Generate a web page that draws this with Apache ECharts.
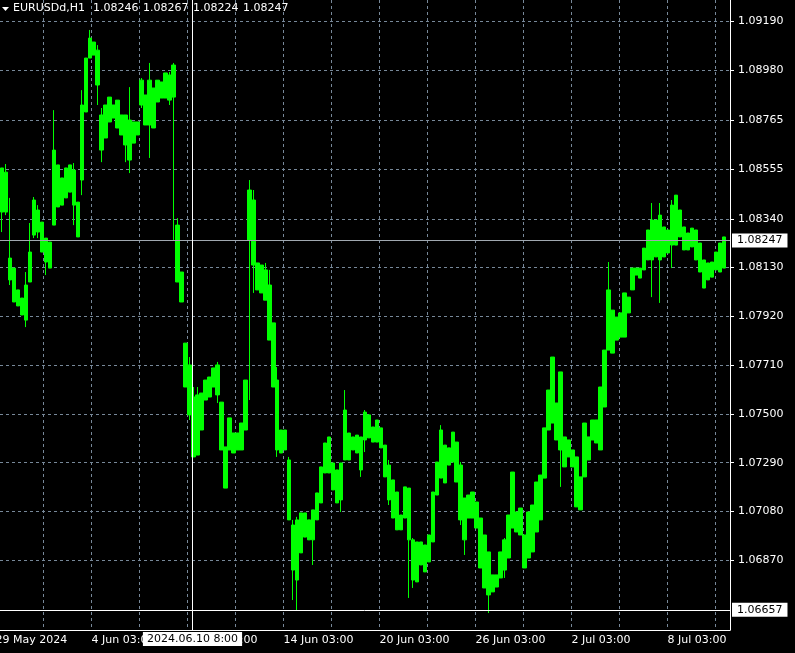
<!DOCTYPE html>
<html><head><meta charset="utf-8">
<script src="https://cdn.jsdelivr.net/npm/echarts@6/dist/echarts.min.js"></script>
<style>html,body{margin:0;padding:0;background:#000;}#chart{width:795px;height:653px;}</style>
</head><body><div id="chart"></div>
<script>
const symbolName = 'EURUSDd,H1';
const headerValues = ['1.08246', '1.08267', '1.08224', '1.08247'];
const bidPrice = 1.08247;
const crosshairHour = 197;
const crosshairPrice = 1.06657;
const crosshairLabel = '2024.06.10 8:00';
const yTickValues = [1.06870, 1.07080, 1.07290, 1.07500, 1.07710, 1.07920, 1.08130, 1.08340, 1.08555, 1.08765, 1.08980, 1.09190];
const xTickLabels = ['29 May 2024', '4 Jun 03:00', '10 Jun 03:00', '14 Jun 03:00', '20 Jun 03:00', '26 Jun 03:00', '2 Jul 03:00', '8 Jul 03:00'];

const high = [
1.08559,1.08576,1.08430,1.08128,1.08034,1.07999,1.08111,1.08322,1.08434,1.08399,
1.08326,1.08257,1.08240,1.08808,1.08572,1.08516,1.08559,1.08572,1.08580,1.08412,
1.08894,1.09032,1.09153,1.09101,1.09088,1.08817,1.08830,1.08864,1.08830,1.08851,
1.08787,1.08787,1.08907,1.08757,1.08757,1.08946,1.08873,1.09011,1.08903,1.08937,
1.08929,1.08968,1.08972,1.09011,1.08343,1.08111,1.07805,1.07745,1.07616,1.07616,
1.07590,1.07646,1.07659,1.07698,1.07724,1.07551,1.07358,1.07483,1.07418,1.07418,
1.07461,1.07646,1.08507,1.08464,1.08150,1.08141,1.08150,1.08120,1.07892,1.07702,
1.07431,1.07431,1.07315,1.07044,1.07057,1.07074,1.07074,1.07044,1.07087,1.07160,
1.07272,1.07375,1.07401,1.07289,1.07259,1.07289,1.07603,1.07418,1.07401,1.07409,
1.07401,1.07517,1.07496,1.07444,1.07474,1.07440,1.07366,1.07302,1.07216,1.07164,
1.07065,1.07186,1.07181,1.06966,1.06949,1.06949,1.06936,1.06979,1.07164,1.07293,
1.07452,1.07366,1.07354,1.07422,1.07379,1.07293,1.07138,1.07151,1.07164,1.07121,
1.07052,1.06979,1.06906,1.06807,1.06807,1.06906,1.06966,1.07065,1.07250,1.07078,
1.07095,1.06979,1.07078,1.07108,1.07207,1.07237,1.07440,1.07603,1.07745,1.07547,
1.07681,1.07401,1.07388,1.07345,1.07315,1.07229,1.07461,1.07401,1.07474,1.07474,
1.07616,1.07775,1.08154,1.07947,1.07917,1.07935,1.08021,1.08003,1.08128,1.08128,
1.08128,1.08214,1.08292,1.08408,1.08335,1.08408,1.08305,1.08292,1.08421,1.08442,
1.08378,1.08305,1.08279,1.08300,1.08292,1.08236,1.08163,1.08150,1.08154,1.08197,
1.08236,1.08262];

const open = [
1.08559,1.08541,1.08171,1.08128,1.08034,1.07999,1.08055,1.08197,1.08421,1.08378,
1.08326,1.08257,1.08240,1.08636,1.08572,1.08516,1.08559,1.08572,1.08550,1.08412,
1.08830,1.09032,1.09118,1.09101,1.09066,1.08787,1.08830,1.08864,1.08830,1.08851,
1.08787,1.08787,1.08765,1.08757,1.08757,1.08937,1.08873,1.08937,1.08903,1.08937,
1.08929,1.08968,1.08959,1.09002,1.08313,1.08111,1.07805,1.07711,1.07573,1.07582,
1.07590,1.07646,1.07659,1.07698,1.07711,1.07551,1.07358,1.07483,1.07418,1.07418,
1.07461,1.07646,1.08464,1.08421,1.08150,1.08141,1.08120,1.08055,1.07892,1.07646,
1.07431,1.07431,1.07302,1.07022,1.07044,1.07074,1.07074,1.07044,1.07087,1.07160,
1.07272,1.07375,1.07401,1.07289,1.07259,1.07289,1.07517,1.07418,1.07401,1.07409,
1.07401,1.07508,1.07496,1.07444,1.07474,1.07440,1.07366,1.07280,1.07216,1.07164,
1.07065,1.07186,1.07181,1.06958,1.06949,1.06949,1.06936,1.06979,1.07164,1.07293,
1.07431,1.07366,1.07354,1.07422,1.07379,1.07280,1.07138,1.07151,1.07164,1.07121,
1.07052,1.06979,1.06906,1.06807,1.06807,1.06906,1.06958,1.07065,1.07250,1.07078,
1.07095,1.06979,1.07078,1.07108,1.07207,1.07237,1.07440,1.07603,1.07745,1.07547,
1.07681,1.07401,1.07388,1.07345,1.07315,1.07229,1.07461,1.07401,1.07474,1.07474,
1.07616,1.07775,1.08034,1.07947,1.07917,1.07935,1.08021,1.08003,1.08128,1.08128,
1.08128,1.08214,1.08292,1.08335,1.08335,1.08356,1.08305,1.08292,1.08399,1.08442,
1.08378,1.08305,1.08279,1.08300,1.08292,1.08236,1.08163,1.08150,1.08154,1.08197,
1.08236,1.08262];

const close = [
1.08369,1.08369,1.08077,1.07982,1.07965,1.07926,1.07904,1.08068,1.08270,1.08283,
1.08197,1.08154,1.08128,1.08313,1.08391,1.08399,1.08430,1.08455,1.08399,1.08262,
1.08507,1.08800,1.09032,1.09045,1.08916,1.08636,1.08688,1.08757,1.08774,1.08731,
1.08701,1.08658,1.08593,1.08666,1.08701,1.08830,1.08744,1.08744,1.08731,1.08843,
1.08860,1.08860,1.08851,1.08864,1.08068,1.07982,1.07616,1.07496,1.07315,1.07323,
1.07431,1.07560,1.07573,1.07616,1.07582,1.07345,1.07181,1.07345,1.07332,1.07345,
1.07345,1.07431,1.08249,1.08141,1.08034,1.08021,1.07990,1.07818,1.07616,1.07345,
1.07332,1.07345,1.07044,1.06828,1.06785,1.06902,1.06970,1.06958,1.06958,1.07044,
1.07117,1.07246,1.07246,1.07173,1.07117,1.07130,1.07302,1.07302,1.07345,1.07332,
1.07259,1.07388,1.07397,1.07379,1.07379,1.07354,1.07229,1.07130,1.07052,1.07001,
1.07001,1.07052,1.06958,1.06785,1.06777,1.06850,1.06820,1.06863,1.06949,1.07151,
1.07224,1.07203,1.07280,1.07293,1.07207,1.07044,1.06958,1.07052,1.07052,1.07009,
1.06837,1.06751,1.06721,1.06734,1.06755,1.06794,1.06828,1.06880,1.07009,1.06992,
1.06979,1.06837,1.06880,1.06906,1.06992,1.07044,1.07224,1.07431,1.07461,1.07388,
1.07345,1.07272,1.07315,1.07272,1.07100,1.07087,1.07229,1.07302,1.07388,1.07375,
1.07345,1.07530,1.07775,1.07762,1.07818,1.07831,1.07831,1.07935,1.08034,1.08098,
1.08085,1.08120,1.08163,1.08163,1.08176,1.08163,1.08176,1.08193,1.08227,1.08227,
1.08262,1.08206,1.08206,1.08219,1.08163,1.08111,1.08042,1.08077,1.08089,1.08120,
1.08111,1.08128];

const low = [
1.08283,1.08356,1.08055,1.07982,1.07965,1.07926,1.07874,1.08068,1.08257,1.08257,
1.08197,1.08098,1.08128,1.08313,1.08391,1.08399,1.08430,1.08455,1.08313,1.08262,
1.08442,1.08800,1.09032,1.09045,1.08830,1.08584,1.08688,1.08757,1.08774,1.08731,
1.08701,1.08584,1.08537,1.08666,1.08701,1.08817,1.08744,1.08602,1.08731,1.08843,
1.08860,1.08860,1.08830,1.08249,1.08068,1.07982,1.07616,1.07474,1.07315,1.07323,
1.07431,1.07560,1.07573,1.07616,1.07547,1.07345,1.07181,1.07345,1.07332,1.07345,
1.07345,1.07431,1.07560,1.08021,1.08034,1.08021,1.07990,1.07818,1.07616,1.07315,
1.07332,1.07345,1.07044,1.06699,1.06656,1.06902,1.06970,1.06958,1.06850,1.07044,
1.07117,1.07246,1.07246,1.07173,1.07117,1.07078,1.07302,1.07302,1.07345,1.07332,
1.07229,1.07336,1.07397,1.07379,1.07379,1.07354,1.07229,1.07108,1.07052,1.07001,
1.07001,1.07052,1.06708,1.06751,1.06777,1.06850,1.06820,1.06863,1.06949,1.07151,
1.07224,1.07203,1.07280,1.07293,1.07207,1.07022,1.06893,1.07052,1.07052,1.07009,
1.06837,1.06751,1.06643,1.06734,1.06755,1.06794,1.06794,1.06880,1.07009,1.06992,
1.06979,1.06837,1.06880,1.06906,1.06992,1.07044,1.07224,1.07431,1.07461,1.07388,
1.07186,1.07272,1.07315,1.07272,1.07100,1.07087,1.07229,1.07302,1.07388,1.07375,
1.07345,1.07530,1.07775,1.07762,1.07818,1.07831,1.07831,1.07935,1.08034,1.08098,
1.08085,1.08120,1.08163,1.08003,1.08176,1.07978,1.08176,1.08193,1.08128,1.08227,
1.08262,1.08206,1.08206,1.08219,1.08163,1.08111,1.08042,1.08077,1.08089,1.08120,
1.08111,1.08128];

const FONT = 'DejaVu Sans';
const GRID_COLOR = '#778899';
const categories = Array.from({ length: high.length + 1 }, (_, i) => String(i * 4));
const candles = high.map((h, i) => [open[i], close[i], low[i], h]);
const yMin = 1.06570, yMax = 1.09282;

const chart = echarts.init(document.getElementById('chart'), null, { renderer: 'canvas' });
chart.setOption({
  backgroundColor: '#000',
  animation: false,
  textStyle: { fontFamily: FONT },
  grid: [
    { left: 0, top: 0, width: 730, height: 630, containLabel: false, outerBoundsMode: 'none' },
    { left: -52.5, top: 0, width: 782.5, height: 630, containLabel: false, outerBoundsMode: 'none' }
  ],
  xAxis: [
    { type: 'category', gridIndex: 0, data: categories, boundaryGap: true,
      axisLine: { show: true, lineStyle: { color: '#fff', width: 1 } },
      axisTick: { show: false }, axisLabel: { show: false }, splitLine: { show: false } },
    { type: 'value', gridIndex: 1, min: -48, max: 734.5, interval: 48,
      axisLine: { show: false }, axisTick: { show: false },
      axisLabel: { show: true, color: '#fff', fontSize: 11, fontFamily: FONT, align: 'left', margin: 5,
        showMinLabel: true, showMaxLabel: true, hideOverlap: false,
        formatter: v => (v >= 0 && v % 96 === 0 && v / 96 < xTickLabels.length) ? xTickLabels[v / 96] : '' },
      splitLine: { show: true, lineStyle: { color: GRID_COLOR, type: [3, 3], width: 1 } } }
  ],
  yAxis: [
    { type: 'value', gridIndex: 0, position: 'right', min: yMin, max: yMax, scale: true,
      axisLine: { show: true, lineStyle: { color: '#fff', width: 1 } },
      axisTick: { show: true, length: 4, customValues: yTickValues, lineStyle: { color: '#fff' } },
      axisLabel: { show: true, customValues: yTickValues, color: '#fff', fontSize: 11, fontFamily: FONT, margin: 8,
        formatter: v => v.toFixed(5) },
      splitLine: { show: true, lineStyle: { color: GRID_COLOR, type: [3, 3], width: 1 } } },
    { type: 'value', gridIndex: 1, min: yMin, max: yMax, show: false, scale: true }
  ],
  series: [
    { type: 'candlestick', xAxisIndex: 0, yAxisIndex: 0, data: candles, barWidth: 4,
      itemStyle: { color: '#00ff00', color0: '#00ff00', borderColor: '#00ff00', borderColor0: '#00ff00', borderWidth: 1 },
      markLine: { silent: true, symbol: ['none', 'none'], animation: false, precision: 5,
        lineStyle: { color: '#a0a8b0', type: 'solid', width: 1 },
        label: { show: true, position: 'end', distance: 2, formatter: () => bidPrice.toFixed(5),
          backgroundColor: '#fff', color: '#000', fontSize: 11, fontFamily: FONT, padding: [2, 5, 1, 5] },
        data: [{ yAxis: bidPrice }] } },
    { type: 'line', xAxisIndex: 1, yAxisIndex: 1, data: [[crosshairHour, crosshairPrice]], symbol: 'none',
      lineStyle: { width: 0 },
      markLine: { silent: true, symbol: ['none', 'none'], animation: false, precision: 5,
        lineStyle: { color: '#fff', type: 'solid', width: 1 },
        data: [
          { xAxis: crosshairHour, label: { show: true, position: 'start', distance: 2, formatter: crosshairLabel,
            backgroundColor: '#fff', color: '#000', fontSize: 11, fontFamily: FONT, padding: [2, 4, 1, 4] } },
          { yAxis: crosshairPrice, label: { show: true, position: 'end', distance: 2, formatter: crosshairPrice.toFixed(5),
            backgroundColor: '#fff', color: '#000', fontSize: 11, fontFamily: FONT, padding: [2, 5, 1, 5] } }
        ] } }
  ],
  graphic: [
    { type: 'polygon', shape: { points: [[2, 7], [9, 7], [5.5, 11]] }, style: { fill: '#fff' }, z: 100 },
    { type: 'text', left: 13, top: 3, style: { text: symbolName, fill: '#fff', font: '11px "DejaVu Sans"' }, z: 100 },
    ...headerValues.map((t, i) => ({ type: 'text', left: 93 + 50 * i, top: 3,
      style: { text: t, fill: '#fff', font: '11px "DejaVu Sans"' }, z: 100 }))
  ]
});
</script></body></html>
